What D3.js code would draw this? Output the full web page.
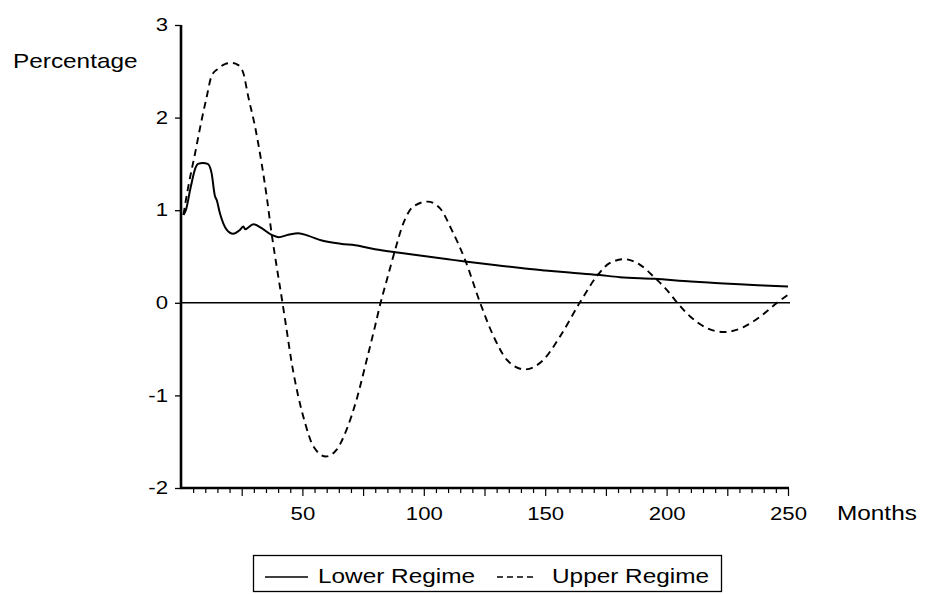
<!DOCTYPE html>
<html>
<head>
<meta charset="utf-8">
<script src="https://cdn.jsdelivr.net/npm/d3@7"></script>
<style>
  html, body { margin: 0; padding: 0; background: #fff; }
  svg { display: block; font-family: Arial, "Liberation Sans", sans-serif; }
</style>
</head>
<body>
<svg id="chart" width="928" height="594"></svg>
<script>
// ---- data ----
const lowerMonths = [1, 2, 4, 6, 7, 9, 11, 12.6, 14, 14.7, 16, 18.8, 21.5, 24.3, 25.7, 26.4, 29.8, 33.2, 37.3, 40.1, 44.2, 48.3, 52.5, 58, 66.2, 71.7, 79.9, 90, 100, 110, 117, 130, 140, 150, 160, 171.7, 180.7, 195, 210, 220, 230, 240, 250];
const lowerValues = [0.95, 1.0, 1.25, 1.46, 1.5, 1.51, 1.5, 1.40, 1.15, 1.11, 0.97, 0.79, 0.745, 0.787, 0.823, 0.795, 0.849, 0.806, 0.734, 0.709, 0.734, 0.752, 0.723, 0.672, 0.636, 0.622, 0.579, 0.54, 0.505, 0.47, 0.446, 0.405, 0.375, 0.35, 0.327, 0.302, 0.277, 0.259, 0.23, 0.215, 0.2, 0.188, 0.176];

const upperMonths = [1, 3, 5.8, 8.5, 10.6, 12.6, 15.4, 18.1, 20.9, 23.6, 25.7, 27.7, 30.5, 33.2, 35.3, 37.3, 39.4, 41.8, 43.5, 45.6, 48.3, 51.1, 54.5, 59.7, 64.1, 68.2, 72.3, 76.5, 79.9, 82.2, 84.8, 88.2, 91.6, 95.7, 101.5, 106.7, 111.5, 117, 123.2, 128.7, 134.2, 141.6, 149.3, 156.2, 164.2, 171.7, 176.5, 182.7, 189.1, 195.3, 200.1, 204.4, 209.7, 216.6, 223.5, 231.7, 238.6, 245.5, 250];
const upperValues = [0.95, 1.255, 1.615, 1.974, 2.226, 2.45, 2.53, 2.578, 2.59, 2.567, 2.478, 2.226, 1.902, 1.507, 1.147, 0.752, 0.392, 0.0, -0.291, -0.65, -1.01, -1.298, -1.55, -1.66, -1.586, -1.37, -1.046, -0.615, -0.255, 0.0, 0.248, 0.572, 0.86, 1.04, 1.093, 1.02, 0.787, 0.464, 0.0, -0.36, -0.615, -0.72, -0.615, -0.36, 0.0, 0.302, 0.428, 0.471, 0.41, 0.266, 0.14, 0.0, -0.148, -0.273, -0.316, -0.262, -0.148, 0.0, 0.086];

const xTickValues = d3.range(5, 251, 5);
const xLabelValues = [50, 100, 150, 200, 250];
const yTickValues = [-2, -1, 0, 1, 2, 3];
const seriesNames = ["Lower Regime", "Upper Regime"];
const yTitle = "Percentage";
const xTitle = "Months";

// ---- drawing ----
const svg = d3.select("#chart");
const x = d3.scaleLinear().domain([0, 250]).range([181, 788]);
const y = d3.scaleLinear().domain([-2, 3]).range([488, 25]);

const SX_TICK = 1.23, SX_TEXT = 1.16;

function stretchedText(g, tx, ty, str, size, anchor, sx) {
  g.append("g").attr("transform", `translate(${tx},${ty}) scale(${sx},1)`)
    .append("text").attr("x", 0).attr("y", 0)
    .attr("font-size", size).attr("text-anchor", anchor).attr("fill", "#000")
    .text(str);
}

// zero line
svg.append("line")
  .attr("x1", x(0)).attr("x2", x(250) + 2)
  .attr("y1", y(0)).attr("y2", y(0))
  .attr("stroke", "#000").attr("stroke-width", 1.6);

const lineGen = d3.line().x(d => x(d[0])).y(d => y(d[1])).curve(d3.curveMonotoneX);

const lowerData = lowerMonths.map((m, i) => [m, lowerValues[i]]);
const upperData = upperMonths.map((m, i) => [m, upperValues[i]]);

svg.append("path").datum(upperData)
  .attr("d", lineGen).attr("fill", "none")
  .attr("stroke", "#000").attr("stroke-width", 1.9)
  .attr("stroke-dasharray", "7,5");

svg.append("path").datum(lowerData)
  .attr("d", lineGen).attr("fill", "none")
  .attr("stroke", "#000").attr("stroke-width", 2);

// y axis
const yAxis = d3.axisLeft(y).tickValues(yTickValues).tickSize(6).tickPadding(4.6)
  .tickFormat(d => String(d));
const gy = svg.append("g").attr("transform", `translate(${x(0)},0)`).call(yAxis);
gy.select(".domain").attr("stroke", "#000").attr("stroke-width", 2.6)
  .attr("d", `M0,${y(3)}V${y(-2)}`);
gy.selectAll(".tick line").attr("stroke", "#000").attr("stroke-width", 1.3);
gy.selectAll(".tick text")
  .attr("font-size", 18).attr("font-family", "Arial, 'Liberation Sans', sans-serif")
  .attr("fill", "#000")
  .attr("transform", `scale(${SX_TICK},1)`);

// x axis
const xAxis = d3.axisBottom(x).tickValues(xTickValues).tickSize(5)
  .tickFormat(d => xLabelValues.includes(d) ? String(d) : "");
const gx = svg.append("g").attr("transform", `translate(0,${y(-2)})`).call(xAxis);
gx.select(".domain").attr("stroke", "#000").attr("stroke-width", 2.6)
  .attr("d", `M${x(0) - 1},0H${x(250) + 1}`);
gx.selectAll(".tick line").attr("stroke", "#000").attr("stroke-width", 1.2)
  .attr("y2", d => (d % 25 === 0 ? 8 : 5));
gx.selectAll(".tick text")
  .attr("font-size", 18).attr("font-family", "Arial, 'Liberation Sans', sans-serif")
  .attr("fill", "#000").attr("y", 19)
  .attr("transform", `scale(${SX_TICK},1)`);

// titles
stretchedText(svg, 13, 68, yTitle, 21, "start", SX_TEXT);
stretchedText(svg, 837, 520, xTitle, 21, "start", SX_TEXT);

// legend
const lg = svg.append("g");
lg.append("rect").attr("x", 253.5).attr("y", 555.5).attr("width", 468).attr("height", 36)
  .attr("fill", "#fff").attr("stroke", "#000").attr("stroke-width", 1.3);
lg.append("line").attr("x1", 265).attr("x2", 308).attr("y1", 577).attr("y2", 577)
  .attr("stroke", "#000").attr("stroke-width", 1.6);
stretchedText(lg, 318, 583, seriesNames[0], 21, "start", SX_TEXT);
lg.append("line").attr("x1", 497).attr("x2", 535).attr("y1", 577).attr("y2", 577)
  .attr("stroke", "#000").attr("stroke-width", 1.6).attr("stroke-dasharray", "6,4");
stretchedText(lg, 552, 583, seriesNames[1], 21, "start", SX_TEXT);
</script>
</body>
</html>
